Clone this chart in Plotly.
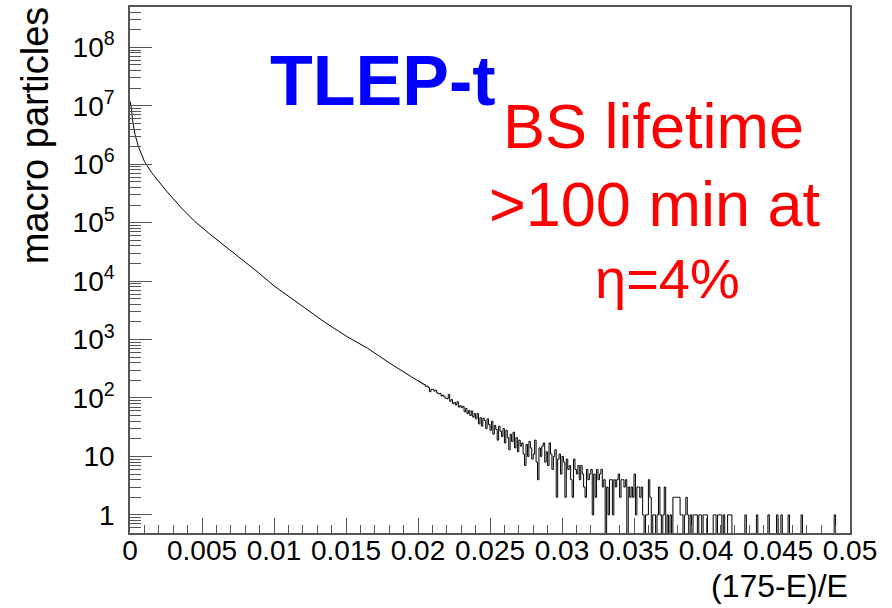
import plotly.graph_objects as go
import numpy as np

# ---- data ----
# smooth head of the distribution (x = (175-E)/E, y = macro particles)
head_x = [0.0, 0.0001, 0.0002, 0.00035, 0.0006, 0.001, 0.0015, 0.0025, 0.0035,
          0.0045, 0.0055, 0.0066, 0.0078, 0.0089, 0.010, 0.012, 0.0135, 0.015,
          0.0165, 0.018, 0.019, 0.020]
head_y = [1.2e7, 9.0e6, 5.2e6, 3.2e6, 1.95e6, 1.12e6, 7.2e5, 3.55e5, 1.86e5,
          1.05e5, 6.5e4, 4.0e4, 2.35e4, 1.41e4, 8300, 3630, 2000, 1150,
          710, 400, 280, 196]

# noisy tail, bins of width 1e-4 starting at 0.020
tail_start = 0.020
tail_bin = 0.0001
tail_counts_a = [
    196, 188, 181, 175, 170, 158, 160, 150, 128, 141,
    140, 131, 136, 122, 118, 120, 108, 112, 104, 99,
    97, 115, 88, 94, 80, 84, 76, 86, 70, 74,
    68, 72, 58, 66, 54, 61, 50, 60, 47, 54,
    44, 54, 36, 46, 33, 45, 41, 30, 44, 35,
    28, 40, 24, 34, 29, 19, 33, 27, 22, 30,
    17, 28, 21, 13, 24, 18, 26, 14, 21, 12,
    19, 15, 17, 11, 7, 16, 10, 18, 14, 9,
    11, 19, 8, 4, 14, 10, 15, 17, 8, 12,
    7, 17, 11, 6, 10, 13, 2, 9, 11, 5,
]
tail_counts_b = [
    10, 8, 2, 9, 6, 7, 4, 2, 9, 6,
    5, 7, 4, 7, 5, 3, 2, 6, 4, 5,
    6, 1, 5, 2, 6, 4, 5, 6, 3, 4,
    0, 3, 1, 4, 4, 1, 4, 3, 4, 5,
    2, 4, 4, 3, 4, 0, 3, 2, 3, 2,
    5, 1, 3, 3, 2, 3, 1, 0, 1, 1,
    4, 2, 0, 1, 1, 0, 1, 3, 1, 0,
    1, 3, 0, 1, 0, 1, 0, 2, 2, 2,
    2, 2, 1, 1, 0, 1, 2, 1, 0, 1,
    0, 1, 1, 1, 0, 1, 1, 0, 1, 1,
    1, 0, 0, 0, 0, 1, 1, 0, 1, 1,
    1, 0, 1, 0, 0, 1, 1, 1, 0, 0,
    0, 0, 0, 0, 0, 0, 0, 1, 0, 0,
    0, 0, 0, 0, 0, 1, 0, 0, 0, 0,
    0, 0, 0, 1, 0, 0, 0, 0, 0, 1,
    0, 0, 1, 0, 0, 0, 0, 1, 0, 0,
    0, 0, 0, 0, 0, 0, 1, 0, 0, 0,
    0, 0, 0, 0, 0, 0, 0, 0, 0, 0,
    0, 0, 0, 0, 0, 0, 0, 0, 0, 1,
    0, 0, 0, 0, 0, 0, 0, 0, 0, 0,
]

x_tickvals = [0, 0.005, 0.01, 0.015, 0.02, 0.025, 0.03, 0.035, 0.04, 0.045, 0.05]
x_ticktext = ["0", "0.005", "0.01", "0.015", "0.02", "0.025", "0.03", "0.035",
              "0.04", "0.045", "0.05"]
y_tickvals = [1, 10, 1e2, 1e3, 1e4, 1e5, 1e6, 1e7, 1e8]
y_ticktext = ["1", "10", "10<sup>2</sup>", "10<sup>3</sup>", "10<sup>4</sup>",
              "10<sup>5</sup>", "10<sup>6</sup>", "10<sup>7</sup>", "10<sup>8</sup>"]

# ---- build step outline for the tail ----
counts = np.array(tail_counts_a + tail_counts_b, dtype=float)
edges = tail_start + tail_bin * np.arange(len(counts) + 1)
floor = 0.05  # empty bins drop below the visible axis range
yplot = np.where(counts > 0, counts, floor)
step_x = edges
step_y = np.append(yplot, yplot[-1])

fig = go.Figure()
fig.add_trace(go.Scatter(x=head_x, y=head_y, mode="lines",
                         line=dict(color="black", width=1), showlegend=False))
fig.add_trace(go.Scatter(x=step_x, y=step_y, mode="lines",
                         line=dict(color="black", width=1, shape="hv"),
                         showlegend=False))

tickfont = dict(family="Liberation Sans, Arial, sans-serif", size=28, color="black")
axcol = "#555555"

minor_y = [m * 10.0 ** k for k in range(-1, 9) for m in range(2, 10)]
minor_x = [i * 0.001 for i in range(51) if i % 5 != 0]

fig.update_xaxes(range=[0, 0.05], tickmode="array", tickvals=x_tickvals,
                 ticktext=x_ticktext, ticks="inside", ticklen=15, tickwidth=1,
                 tickcolor=axcol, showline=True, linecolor=axcol, linewidth=1.5,
                 mirror=True, showgrid=False, zeroline=False, tickfont=tickfont,
                 ticklabelstandoff=-8,
                 minor=dict(tickmode="array", tickvals=minor_x, ticks="inside",
                            ticklen=8, tickwidth=1, tickcolor=axcol, showgrid=False))
fig.update_yaxes(type="log", range=[-0.31, 8.69], tickmode="array",
                 tickvals=y_tickvals, ticktext=y_ticktext, ticks="inside",
                 ticklen=22, tickwidth=1, tickcolor=axcol, showline=True,
                 linecolor=axcol, linewidth=1.5, mirror=True, showgrid=False,
                 zeroline=False, tickfont=tickfont, ticklabelstandoff=8,
                 minor=dict(tickmode="array", tickvals=minor_y, ticks="inside",
                            ticklen=11, tickwidth=1, tickcolor=axcol, showgrid=False))

font_main = "Liberation Sans, Arial, sans-serif"
annotations = [
    dict(text="macro particles", x=-0.132, y=1.005, xref="paper", yref="paper",
         xanchor="center", yanchor="top", textangle=-90, showarrow=False,
         font=dict(family=font_main, size=38, color="black")),
    dict(text="(175-E)/E", x=1.0, y=-0.062, xref="paper", yref="paper",
         xanchor="right", yanchor="top", showarrow=False,
         font=dict(family=font_main, size=32, color="black")),
    dict(text="<b>TLEP-t</b>", x=0.3507, y=0.859, xref="paper", yref="paper",
         xanchor="center", yanchor="middle", showarrow=False,
         font=dict(family=font_main, size=70, color="#0000ff")),
    dict(text="BS lifetime", x=0.7264, y=0.774, xref="paper", yref="paper",
         xanchor="center", yanchor="middle", showarrow=False,
         font=dict(family=font_main, size=63, color="#ff0000")),
    dict(text=">100 min at", x=0.729, y=0.6255, xref="paper", yref="paper",
         xanchor="center", yanchor="middle", showarrow=False,
         font=dict(family=font_main, size=63, color="#ff0000")),
    dict(text="η=4%", x=0.746, y=0.483, xref="paper", yref="paper",
         xanchor="center", yanchor="middle", showarrow=False,
         font=dict(family=font_main, size=56, color="#ff0000")),
]

fig.update_layout(width=892, height=608,
                  margin=dict(l=130, r=42, t=7, b=75, autoexpand=False),
                  plot_bgcolor="white", paper_bgcolor="white",
                  annotations=annotations, showlegend=False)

fig.write_html("out.html", config={"displayModeBar": False},
               post_script="document.body.style.margin='0';")
